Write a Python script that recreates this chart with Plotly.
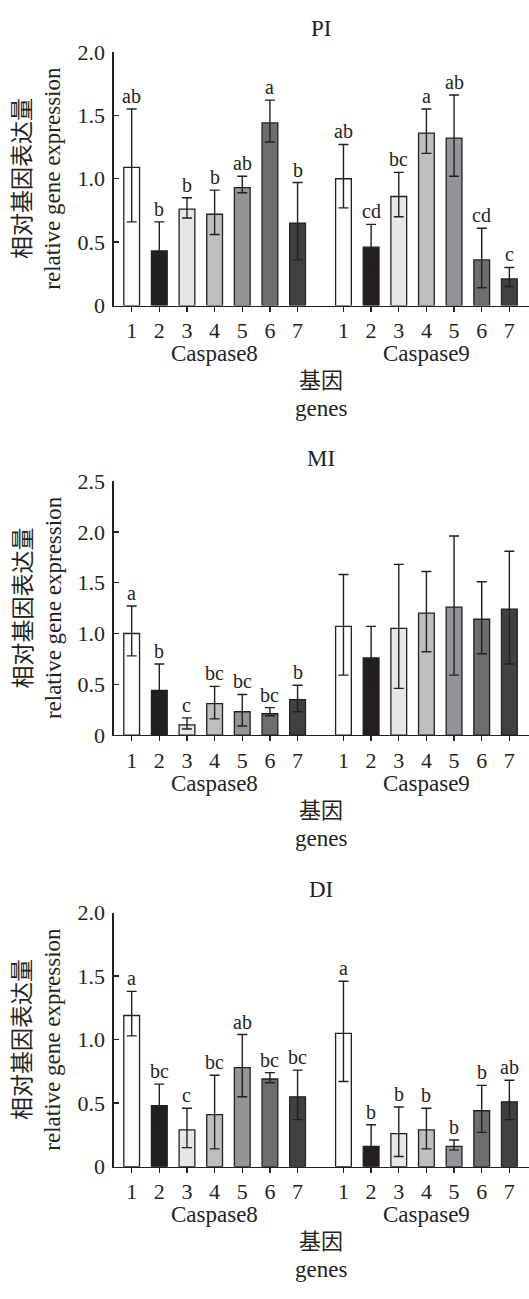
import plotly.graph_objects as go

# ---------------- data ----------------
panel_titles = ["PI", "MI", "DI"]
genes = ["Caspase8", "Caspase9"]
tick_labels = ["1", "2", "3", "4", "5", "6", "7"]
y_max = [2.0, 2.5, 2.0]

# PI
pi_c8_mean = [1.09, 0.43, 0.76, 0.72, 0.93, 1.44, 0.65]
pi_c8_plus = [0.46, 0.23, 0.09, 0.19, 0.09, 0.18, 0.32]
pi_c8_minus = [0.43, 0.23, 0.07, 0.16, 0.04, 0.15, 0.29]
pi_c8_letters = ["ab", "b", "b", "b", "ab", "a", "b"]
pi_c9_mean = [1.00, 0.46, 0.86, 1.36, 1.32, 0.36, 0.21]
pi_c9_plus = [0.27, 0.18, 0.19, 0.19, 0.34, 0.25, 0.09]
pi_c9_minus = [0.23, 0.18, 0.16, 0.16, 0.30, 0.22, 0.06]
pi_c9_letters = ["ab", "cd", "bc", "a", "ab", "cd", "c"]

# MI
mi_c8_mean = [1.00, 0.44, 0.10, 0.31, 0.23, 0.21, 0.35]
mi_c8_plus = [0.27, 0.26, 0.07, 0.17, 0.17, 0.06, 0.14]
mi_c8_minus = [0.22, 0.26, 0.04, 0.15, 0.14, 0.02, 0.12]
mi_c8_letters = ["a", "b", "c", "bc", "bc", "bc", "b"]
mi_c9_mean = [1.07, 0.76, 1.05, 1.20, 1.26, 1.14, 1.24]
mi_c9_plus = [0.51, 0.31, 0.63, 0.41, 0.70, 0.37, 0.57]
mi_c9_minus = [0.48, 0.31, 0.59, 0.38, 0.67, 0.34, 0.54]
mi_c9_letters = ["", "", "", "", "", "", ""]

# DI
di_c8_mean = [1.19, 0.48, 0.29, 0.41, 0.78, 0.69, 0.55]
di_c8_plus = [0.19, 0.17, 0.17, 0.31, 0.26, 0.05, 0.21]
di_c8_minus = [0.16, 0.17, 0.14, 0.27, 0.23, 0.03, 0.18]
di_c8_letters = ["a", "bc", "c", "bc", "ab", "bc", "bc"]
di_c9_mean = [1.05, 0.16, 0.26, 0.29, 0.16, 0.44, 0.51]
di_c9_plus = [0.41, 0.17, 0.21, 0.17, 0.05, 0.20, 0.17]
di_c9_minus = [0.38, 0.17, 0.18, 0.15, 0.03, 0.17, 0.14]
di_c9_letters = ["a", "b", "b", "b", "b", "b", "ab"]

panels = [
    (pi_c8_mean + pi_c9_mean, pi_c8_plus + pi_c9_plus, pi_c8_minus + pi_c9_minus, pi_c8_letters + pi_c9_letters),
    (mi_c8_mean + mi_c9_mean, mi_c8_plus + mi_c9_plus, mi_c8_minus + mi_c9_minus, mi_c8_letters + mi_c9_letters),
    (di_c8_mean + di_c9_mean, di_c8_plus + di_c9_plus, di_c8_minus + di_c9_minus, di_c8_letters + di_c9_letters),
]

# ---------------- style ----------------
W, H = 529, 1299
INK = "#231f20"
FONT = "Liberation Serif, Times New Roman, Noto Sans CJK SC"
bar_colors = ["#ffffff", "#231f20", "#e6e7e8", "#bcbec0", "#939598", "#6d6e71", "#414042"]
GROUP_GAP = 0.66
xpos = [i for i in range(7)] + [i + 7 + GROUP_GAP for i in range(7)]
group_centers = [3, 10 + GROUP_GAP]
x_range = [-0.65, 14.37]

# plot area pixel positions (top, bottom)
plot_px = [(40.7, 299.3), (478.3, 737.3), (918.3, 1177.3)]
x_left_px = 113.7

fig = go.Figure()
annotations = []
for k, (means, plus, minus, letters) in enumerate(panels):
    sfx = "" if k == 0 else str(k + 1)
    xa, ya = "x" + sfx, "y" + sfx
    fig.add_trace(go.Bar(
        x=xpos, y=means, width=0.57,
        marker=dict(color=bar_colors * 2, line=dict(color=INK, width=1.3)),
        error_y=dict(type="data", symmetric=False, array=plus, arrayminus=minus,
                     color=INK, thickness=1.4, width=5),
        xaxis=xa, yaxis=ya, showlegend=False, hoverinfo="skip",
    ))
    top, bot = plot_px[k]
    dom = [1 - bot / H, 1 - top / H]
    ticks_y = [v * 0.5 for v in range(int(y_max[k] / 0.5) + 1)]
    fig.layout["xaxis" + sfx] = dict(
        domain=[x_left_px / W, 1.0], range=x_range, anchor=ya,
        tickvals=xpos, ticktext=tick_labels * 2,
        showline=True, linecolor=INK, linewidth=1.3,
        ticks="outside", ticklen=5, tickwidth=1.3, tickcolor=INK,
        showgrid=False, zeroline=False, fixedrange=True,
        tickfont=dict(family=FONT, size=22, color=INK), ticklabelstandoff=0,
    )
    fig.layout["yaxis" + sfx] = dict(
        domain=dom, range=[0, y_max[k]], anchor=xa,
        tickvals=ticks_y, ticktext=["0" if v == 0 else f"{v:.1f}" for v in ticks_y],
        showline=True, linecolor=INK, linewidth=1.3,
        ticks="inside", ticklen=5, tickwidth=1.3, tickcolor=INK,
        showgrid=False, zeroline=False, fixedrange=True,
        tickfont=dict(family=FONT, size=22, color=INK), ticklabelstandoff=3,
    )
    # significance letters
    for xp, m, p, lt in zip(xpos, means, plus, letters):
        if lt:
            annotations.append(dict(
                x=xp, y=m + p, xref=xa, yref=ya, text=lt, showarrow=False,
                yanchor="bottom", yshift=0,
                font=dict(family=FONT, size=20, color=INK)))
    # panel title
    annotations.append(dict(
        x=0.5, y=1, xref=xa + " domain", yref=ya + " domain", text=panel_titles[k],
        showarrow=False, yanchor="middle", yshift=23,
        font=dict(family=FONT, size=23, color=INK)))
    # gene group labels
    for gc, gname in zip(group_centers, genes):
        annotations.append(dict(
            x=gc, y=0, xref=xa, yref=ya + " domain", text=gname, showarrow=False,
            yanchor="middle", yshift=-48,
            font=dict(family=FONT, size=23, color=INK)))
    annotations.append(dict(
        x=0.5, y=0, xref=xa + " domain", yref=ya + " domain", text="基因", showarrow=False,
        yanchor="middle", yshift=-75,
        font=dict(family=FONT, size=22, color=INK)))
    annotations.append(dict(
        x=0.5, y=0, xref=xa + " domain", yref=ya + " domain", text="genes", showarrow=False,
        yanchor="middle", yshift=-103,
        font=dict(family=FONT, size=23, color=INK)))
    # y axis title (two lines)
    annotations.append(dict(
        x=38 / W, y=0.5, xref="paper", yref=ya + " domain",
        text="相对基因表达量<br>relative gene expression", showarrow=False,
        textangle=-90, xanchor="center", yanchor="middle",
        font=dict(family=FONT, size=23, color=INK)))

fig.update_layout(
    width=W, height=H, margin=dict(l=0, r=0, t=0, b=0),
    paper_bgcolor="white", plot_bgcolor="white",
    annotations=annotations, bargap=0, hovermode=False,
)
fig.write_html("out.html", config={"displayModeBar": False, "staticPlot": True},
               post_script="document.body.style.margin='0';document.body.style.overflow='hidden';")
